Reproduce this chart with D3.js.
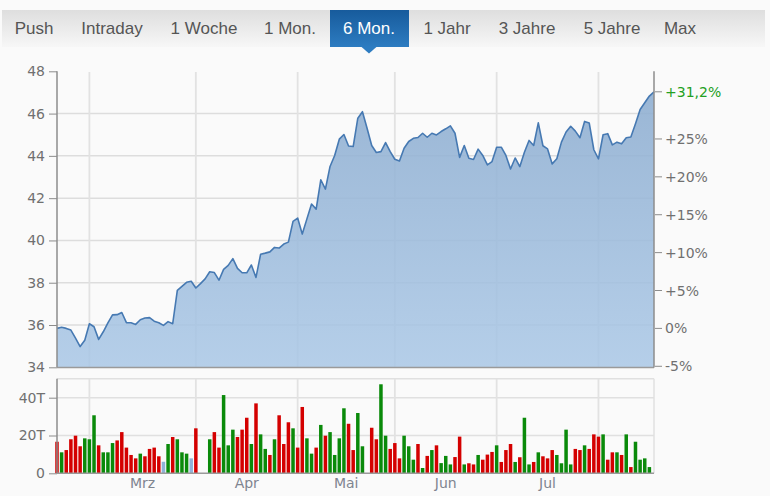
<!DOCTYPE html>
<html>
<head>
<meta charset="utf-8">
<script src="https://cdn.jsdelivr.net/npm/d3@7"></script>
<style>
  html, body { margin: 0; padding: 0; background: #fafafa; }
  svg { display: block; }
</style>
</head>
<body>
<svg id="chart" width="770" height="496"></svg>
<script>
// ---------- DATA ----------
const tabs = ["Push", "Intraday", "1 Woche", "1 Mon.", "6 Mon.", "1 Jahr", "3 Jahre", "5 Jahre", "Max"];
const selectedTab = "6 Mon.";
const monthLabels = ["Mrz", "Apr", "Mai", "Jun", "Jul"];
const monthGridIdx = [7, 30, 52, 73, 95, 117];
const priceTicks = [34, 36, 38, 40, 42, 44, 46, 48];
const pctTicks = [-5, 0, 5, 10, 15, 20, 25];
const volTicks = [0, 20, 40];

const prices = [
  35.84, 35.89, 35.84, 35.76, 35.38, 34.98, 35.28, 36.06, 35.92, 35.32,
  35.68, 36.10, 36.48, 36.49, 36.59, 36.11, 36.11, 36.03, 36.25, 36.33,
  36.35, 36.18, 36.11, 35.98, 36.16, 36.06, 37.64, 37.83, 38.02, 38.07,
  37.75, 37.96, 38.18, 38.52, 38.48, 38.12, 38.63, 38.82, 39.14, 38.68,
  38.47, 38.47, 38.84, 38.25, 39.35, 39.40, 39.46, 39.67, 39.64, 39.83,
  39.92, 40.90, 41.06, 40.30, 41.02, 41.72, 41.48, 42.87, 42.43, 43.50,
  44.02, 44.79, 45.01, 44.47, 44.44, 45.78, 46.09, 45.31, 44.49, 44.16,
  44.20, 44.63, 44.20, 43.84, 43.76, 44.36, 44.68, 44.83, 44.87, 45.07,
  44.88, 45.07, 44.99, 45.15, 45.28, 45.42, 45.07, 43.93, 44.49, 43.89,
  43.83, 44.32, 44.02, 43.57, 43.73, 44.41, 44.41, 44.02, 43.38, 43.90,
  43.49, 44.17, 44.73, 44.49, 45.56, 44.48, 44.33, 43.62, 43.86, 44.65,
  45.13, 45.40, 45.17, 44.86, 45.63, 45.56, 44.29, 43.86, 45.00, 45.05,
  44.52, 44.65, 44.57, 44.86, 44.89, 45.52, 46.19, 46.51, 46.83, 47.03
];

// volume in thousands (T), null = no trading
const volumes = [
  16.7, 11.1, 12.3, 18.0, 19.9, 14.3, 18.5, 18.0, 30.7, 14.8,
  11.1, 11.1, 16.0, 17.4, 21.8, 13.6, 9.7, 7.9, 10.4, 9.0,
  12.9, 13.6, 9.0, 6.1, 15.5, 19.2, 18.0, 11.1, 10.4, 7.9,
  23.8, null, null, 18.0, 21.8, 13.6, 41.4, 14.8, 23.1, 19.2,
  23.1, 29.4, 15.5, 37.0, 20.6, 12.9, 9.7, 18.0, 30.7, 15.5,
  27.0, 23.8, 13.6, 35.1, 18.5, 10.4, 13.6, 25.6, 19.9, 21.8,
  9.7, 18.5, 34.4, 26.2, 12.3, 31.9, 14.3, null, 24.1, 18.0,
  47.1, 19.9, 12.9, 16.0, 7.9, 19.9, 14.3, 7.2, 15.5, 2.8,
  9.2, 12.3, 14.8, 5.4, 9.2, 4.7, 8.6, 19.4, 4.7, 5.3,
  4.7, 9.7, 7.2, 9.9, 11.3, 14.8, 6.0, 12.3, 15.5, 6.0,
  8.5, 29.4, 4.7, 6.0, 11.1, 9.0, 7.9, 12.3, 9.7, 5.3,
  23.1, 4.7, 12.9, 12.3, 14.8, 12.9, 20.6, 19.4, 20.6, 7.2,
  11.1, 11.1, 9.7, 20.6, 3.3, 16.7, 7.2, 7.9, 3.3
];
// u = up (green), d = down (red), n = unchanged (blue)
const volDir = [
  "d","u","d","d","d","d","u","u","u","d",
  "u","u","u","d","d","d","d","d","u","d",
  "d","d","d","n","u","d","u","u","u","n",
  "d",null,null,"u","d","d","u","u","u","d",
  "d","d","u","d","u","u","d","u","d","d",
  "d","u","d","d","u","u","d","u","d","u",
  "u","u","u","d","d","u","u",null,"d","d",
  "u","u","d","d","d","u","u","u","d","u",
  "d","u","d","u","u","u","d","d","u","d",
  "d","u","d","d","d","u","d","d","d","u",
  "d","u","u","d","u","d","d","d","u","u",
  "u","u","d","d","u","d","d","d","u","d",
  "d","u","d","u","d","u","u","u","u"
];

// ---------- CHART ----------
const svg = d3.select("#chart");
const defs = svg.append("defs");

const barGrad = defs.append("linearGradient").attr("id", "tabbar").attr("x1", 0).attr("x2", 0).attr("y1", 0).attr("y2", 1);
barGrad.append("stop").attr("offset", "0%").attr("stop-color", "#dedede");
barGrad.append("stop").attr("offset", "100%").attr("stop-color", "#f7f7f7");

const selGrad = defs.append("linearGradient").attr("id", "tabsel").attr("x1", 0).attr("x2", 0).attr("y1", 0).attr("y2", 1);
selGrad.append("stop").attr("offset", "0%").attr("stop-color", "#175b9c");
selGrad.append("stop").attr("offset", "100%").attr("stop-color", "#2d7cc1");

const areaGrad = defs.append("linearGradient").attr("id", "areagrad").attr("x1", 0).attr("x2", 0).attr("y1", 0).attr("y2", 1);
areaGrad.append("stop").attr("offset", "0%").attr("stop-color", "#8dadd0").attr("stop-opacity", 0.88);
areaGrad.append("stop").attr("offset", "100%").attr("stop-color", "#a9c7e6").attr("stop-opacity", 0.85);

// Tab bar
const tabX = [34, 112, 204, 290, 369, 447, 527, 612, 680];
svg.append("rect").attr("x", 2).attr("y", 10).attr("width", 763).attr("height", 37).attr("fill", "url(#tabbar)");
const selI = tabs.indexOf(selectedTab);
svg.append("rect").attr("x", 330).attr("y", 10).attr("width", 79).attr("height", 37).attr("fill", "url(#tabsel)");
svg.append("path").attr("d", d3.line()([[361, 46.5], [377, 46.5], [369, 53.5]]) + "Z").attr("fill", "#2d7cc1");
svg.append("g").selectAll("text").data(tabs).join("text")
  .attr("x", (d, i) => tabX[i]).attr("y", 34)
  .attr("text-anchor", "middle")
  .attr("font-family", "'Liberation Sans', Arial, sans-serif")
  .attr("font-size", 17)
  .attr("fill", (d, i) => i === selI ? "#ffffff" : "#555555")
  .text(d => d);

// Scales
const left = 57, right = 654;
const x = d3.scaleLinear().domain([0, prices.length - 1]).range([left, right]);
const yP = d3.scaleLinear().domain([34, 48]).range([367.3, 71.3]);
const yV = d3.scaleLinear().domain([0, 50]).range([473.3, 378.8]);
const base = prices[0];
const pctToPrice = p => base * (1 + p / 100);

const font = "'DejaVu Sans', Verdana, sans-serif";
const fs = 14;

// Price pane gridlines
const gP = svg.append("g");
gP.selectAll("line.h").data(priceTicks.filter(t => t > 34 && t < 48)).join("line")
  .attr("x1", left).attr("x2", right).attr("y1", d => yP(d)).attr("y2", d => yP(d))
  .attr("stroke", "#dddddd").attr("stroke-width", 1.5);
gP.selectAll("line.v").data(monthGridIdx).join("line")
  .attr("x1", d => x(d)).attr("x2", d => x(d)).attr("y1", 72).attr("y2", 367)
  .attr("stroke", "#e2e2e2").attr("stroke-width", 1.8);

// Area + line
svg.append("path").datum(prices)
  .attr("d", d3.area().x((d, i) => x(i)).y0(yP(34)).y1(d => yP(d)))
  .attr("fill", "url(#areagrad)");
svg.append("path").datum(prices)
  .attr("d", d3.line().x((d, i) => x(i)).y(d => yP(d)))
  .attr("fill", "none").attr("stroke", "#4679b2").attr("stroke-width", 1.6).attr("stroke-linejoin", "round");

// Left price axis
const axL = svg.append("g").attr("transform", `translate(${left},0)`)
  .call(d3.axisLeft(yP).tickValues(priceTicks).tickSize(8).tickPadding(4).tickFormat(d3.format("d")));
axL.select(".domain").attr("stroke", "#8c8c8c").attr("stroke-width", 1.5).attr("d", `M0,${yP(48)}V${yP(34)}`);
axL.selectAll(".tick line").attr("stroke", "#8c8c8c");
axL.selectAll("text").attr("font-family", font).attr("font-size", fs).attr("fill", "#707070");

// bottom line of price pane
svg.append("line").attr("x1", left).attr("x2", right).attr("y1", 367.5).attr("y2", 367.5)
  .attr("stroke", "#9a9a9a").attr("stroke-width", 1.5);

// Right percent axis
const axR = svg.append("g").attr("transform", `translate(${right},0)`);
axR.append("line").attr("x1", 0).attr("x2", 0).attr("y1", 71.3).attr("y2", 367.5).attr("stroke", "#8c8c8c").attr("stroke-width", 1.5);
const fmtPct = p => (p > 0 ? "+" : "") + d3.format(".0f")(p).replace("\u2212", "-") + "%";
const rt = axR.selectAll("g.t").data(pctTicks).join("g").attr("transform", d => `translate(0,${yP(pctToPrice(d))})`);
rt.append("line").attr("x1", 1).attr("x2", 8).attr("stroke", "#8c8c8c");
rt.append("text").attr("x", 11).attr("dy", "0.36em").attr("font-family", font).attr("font-size", fs)
  .attr("fill", "#707070").text(d => fmtPct(d));
const last = prices[prices.length - 1];
const lastPct = (last / base - 1) * 100;
const lt = axR.append("g").attr("transform", `translate(0,${yP(last)})`);
lt.append("line").attr("x1", 1).attr("x2", 8).attr("stroke", "#8c8c8c");
lt.append("text").attr("x", 11).attr("dy", "0.36em").attr("font-family", font).attr("font-size", fs)
  .attr("fill", "#22a022").text("+" + d3.format(".1f")(lastPct).replace(".", ",") + "%");

// Volume pane
const gV = svg.append("g");
gV.append("line").attr("x1", left).attr("x2", right).attr("y1", 378.8).attr("y2", 378.8).attr("stroke", "#e0e0e0").attr("stroke-width", 1.5);
gV.append("line").attr("x1", right).attr("x2", right).attr("y1", 378.8).attr("y2", 473.3).attr("stroke", "#e0e0e0").attr("stroke-width", 1.5);
gV.selectAll("line.h").data(volTicks.filter(t => t > 0)).join("line")
  .attr("x1", left).attr("x2", right).attr("y1", d => yV(d)).attr("y2", d => yV(d))
  .attr("stroke", "#e0e0e0").attr("stroke-width", 1.5);
gV.selectAll("line.v").data(monthGridIdx).join("line")
  .attr("x1", d => x(d)).attr("x2", d => x(d)).attr("y1", 378.8).attr("y2", 473.3)
  .attr("stroke", "#e2e2e2").attr("stroke-width", 1.8);

const colorOf = { u: "#0a8a0a", d: "#d40000", n: "#8fb3d9" };
const bw = 3.5;
gV.selectAll("rect.bar").data(volumes.map((v, i) => ({ v, i, c: volDir[i] })).filter(d => d.v != null)).join("rect")
  .attr("x", d => x(d.i) - bw / 2).attr("width", bw)
  .attr("y", d => yV(d.v)).attr("height", d => yV(0) - yV(d.v))
  .attr("fill", d => colorOf[d.c]);

// Volume left axis
const axV = svg.append("g").attr("transform", `translate(${left},0)`)
  .call(d3.axisLeft(yV).tickValues(volTicks).tickSize(8).tickPadding(4).tickFormat(d => d === 0 ? "0" : d + "T"));
axV.select(".domain").attr("stroke", "#8c8c8c").attr("stroke-width", 1.5).attr("d", `M0,378.8V${yV(0)}`);
axV.selectAll(".tick line").attr("stroke", "#8c8c8c");
axV.selectAll("text").attr("font-family", font).attr("font-size", fs).attr("fill", "#707070");
svg.append("line").attr("x1", left).attr("x2", right).attr("y1", yV(0)).attr("y2", yV(0))
  .attr("stroke", "#9a9a9a").attr("stroke-width", 1.5);

// Month labels centred between month gridlines
svg.append("g").selectAll("text").data(monthLabels).join("text")
  .attr("x", (d, i) => x((monthGridIdx[i] + monthGridIdx[i + 1]) / 2))
  .attr("y", 488)
  .attr("text-anchor", "middle")
  .attr("font-family", font).attr("font-size", fs).attr("fill", "#7f8590")
  .text(d => d);
</script>
</body>
</html>
